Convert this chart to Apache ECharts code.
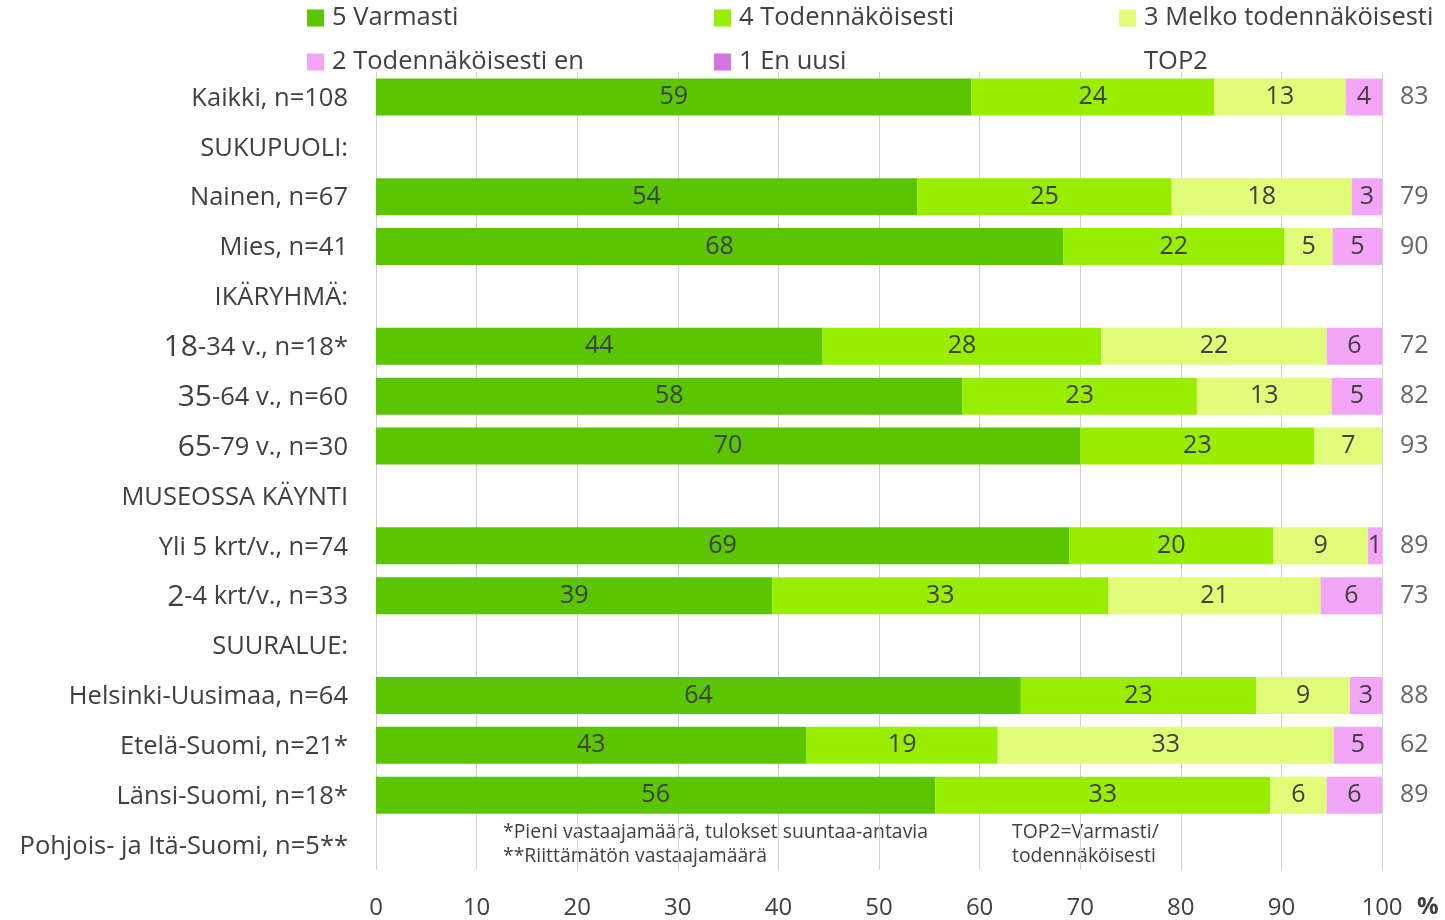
<!DOCTYPE html>
<html>
<head>
<meta charset="utf-8">
<script src="https://cdn.jsdelivr.net/npm/echarts@6/dist/echarts.min.js"></script>
<style>
  html, body { margin: 0; padding: 0; background: #fff; }
  #chart { width: 1445px; height: 920px; }
</style>
</head>
<body>
<div id="chart"></div>
<script>
// Row labels, top to bottom
const categories = [
  'Kaikki, n=108',
  'SUKUPUOLI:',
  'Nainen, n=67',
  'Mies, n=41',
  'IKÄRYHMÄ:',
  '18-34 v., n=18*',
  '35-64 v., n=60',
  '65-79 v., n=30',
  'MUSEOSSA KÄYNTI',
  'Yli 5 krt/v., n=74',
  '2-4 krt/v., n=33',
  'SUURALUE:',
  'Helsinki-Uusimaa, n=64',
  'Etelä-Suomi, n=21*',
  'Länsi-Suomi, n=18*',
  'Pohjois- ja Itä-Suomi, n=5**'
];

// Shares in percent (null = heading row / not reported)
const varmasti        = [59.2, null, 53.8, 68.3, null, 44.4, 58.3, 70.0, null, 68.9, 39.4, null, 64.1, 42.8, 55.6, null];
const todennakoisesti = [24.1, null, 25.3, 22.0, null, 27.7, 23.3, 23.3, null, 20.3, 33.4, null, 23.4, 19.0, 33.3, null];
const melko           = [13.1, null, 17.9, 4.8,  null, 22.4, 13.4, 6.7,  null, 9.4,  21.1, null, 9.3,  33.4, 5.6,  null];
const todennakoisestiEn = [3.6, null, 3.0, 4.9,  null, 5.6,  5.0,  0,    null, 1.4,  6.1,  null, 3.2,  4.8,  5.5,  null];
const enUusi          = [0,    null, 0,    0,    null, 0,    0,    0,    null, 0,    0,    null, 0,    0,    0,    null];
const top2            = [83,   null, 79,   90,   null, 72,   82,   93,   null, 89,   73,   null, 88,   62,   89,   null];

const seriesNames = ['5 Varmasti', '4 Todennäköisesti', '3 Melko todennäköisesti', '2 Todennäköisesti en', '1 En uusi'];
const seriesData = [varmasti, todennakoisesti, melko, todennakoisestiEn, enUusi];
const seriesColors = ['#5ac500', '#99ee00', '#e0fc78', '#f3a6f7', '#d374e2'];

const FONT = 'Open Sans';
const TEXT = '#404040';

const chart = echarts.init(document.getElementById('chart'), null, { renderer: 'canvas' });

const barSeries = seriesNames.map((name, k) => ({
  name: name,
  type: 'bar',
  stack: 'total',
  barWidth: '74%',
  data: seriesData[k],
  itemStyle: { color: seriesColors[k] },
  label: {
    show: true,
    position: 'inside',
    fontFamily: FONT,
    fontSize: 25,
    color: TEXT,
    formatter: p => (p.value == null || p.value === 0) ? '' : String(Math.round(p.value))
  },
  emphasis: { disabled: true }
}));

const top2Series = {
  name: 'TOP2',
  type: 'scatter',
  symbolSize: 0,
  itemStyle: { color: 'transparent' },
  data: top2.map((v, i) => v == null ? null : [100, i, v]),
  encode: { x: 0, y: 1 },
  label: {
    show: true,
    position: 'right',
    distance: 18,
    fontFamily: FONT,
    fontSize: 25,
    color: TEXT,
    formatter: p => String(p.value[2])
  },
  emphasis: { disabled: true }
};

// One legend block per entry so the entries sit in fixed columns
const legendPos = [
  { left: 307, top: 5 },
  { left: 714, top: 5 },
  { left: 1119, top: 5 },
  { left: 307, top: 49 },
  { left: 714, top: 49 },
  { left: 1119, top: 49 }
];
const legendNames = seriesNames.concat(['TOP2']);
const legends = legendNames.map((name, i) => ({
  data: [name === 'TOP2' ? { name: name, itemStyle: { opacity: 0 } } : { name: name, icon: 'rect' }],
  left: legendPos[i].left,
  top: legendPos[i].top,
  padding: 0,
  itemWidth: 17,
  itemHeight: 17,
  selectedMode: false,
  textStyle: { fontFamily: FONT, fontSize: 25.5, color: TEXT, padding: [0, 0, 0, 3] }
}));

const option = {
  animation: false,
  backgroundColor: '#fff',
  legend: legends,
  grid: { left: 376, right: 63, top: 72, bottom: 50, containLabel: false },
  xAxis: {
    type: 'value',
    min: 0,
    max: 100,
    interval: 10,
    axisLine: { show: false },
    axisTick: { show: false },
    splitLine: { show: true, lineStyle: { color: '#d0d0d0', width: 1 } },
    axisLabel: { fontFamily: FONT, fontSize: 24, color: TEXT, margin: 26 },
    name: '%',
    nameLocation: 'end',
    nameGap: 35,
    nameTextStyle: {
      fontFamily: FONT, fontSize: 24, fontWeight: 'bold', color: TEXT,
      verticalAlign: 'top', align: 'left', padding: [25, 0, 0, 0]
    }
  },
  yAxis: {
    type: 'category',
    inverse: true,
    data: categories,
    axisLine: { show: false },
    axisTick: { show: false },
    splitLine: { show: false },
    axisLabel: {
      margin: 28,
      fontFamily: FONT,
      fontSize: 25.5,
      color: TEXT,
      padding: [3, 0, 0, 0],
      formatter: v => v.replace(/^(\d+)-/, '{b|$1}-'),
      rich: {
        b: { fontFamily: FONT, fontSize: 30, color: TEXT }
      }
    }
  },
  graphic: [
    {
      type: 'text', left: 503, top: 820,
      style: {
        text: '*Pieni vastaajamäärä, tulokset suuntaa-antavia\n**Riittämätön vastaajamäärä',
        fontFamily: FONT, fontSize: 19.4, lineHeight: 24, fill: TEXT
      }
    },
    {
      type: 'text', left: 1012, top: 820,
      style: {
        text: 'TOP2=Varmasti/\ntodennäköisesti',
        fontFamily: FONT, fontSize: 19.4, lineHeight: 24, fill: TEXT
      }
    }
  ],
  series: barSeries.concat([top2Series])
};

chart.setOption(option);
</script>
</body>
</html>
